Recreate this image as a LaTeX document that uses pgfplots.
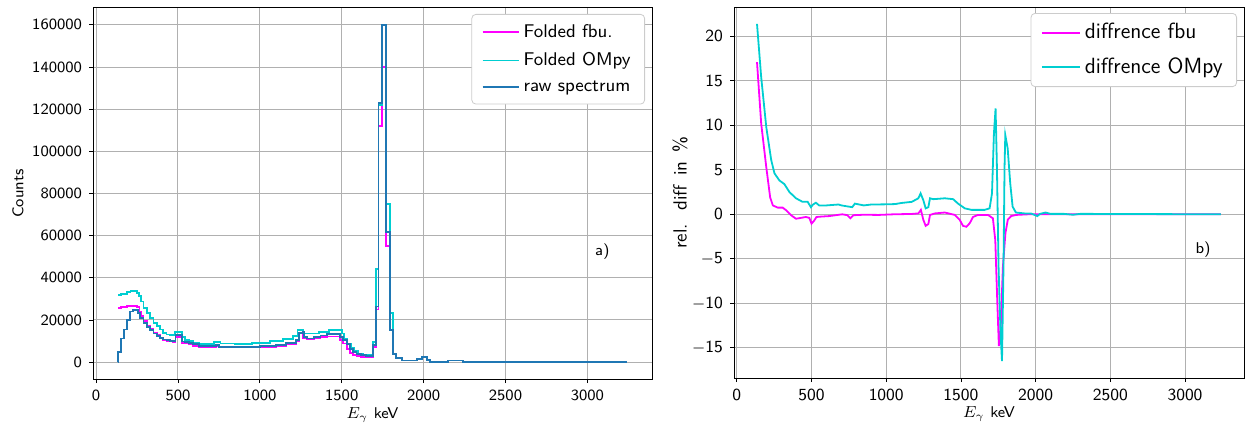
\documentclass[border=0pt]{standalone}
\usepackage{fontspec}
\usepackage{pgfplots}
\pgfplotsset{compat=1.18}
\definecolor{fbu}{HTML}{FF00FF}
\definecolor{omp}{HTML}{00CED1}
\definecolor{raw}{HTML}{1F77B4}
\definecolor{gridc}{HTML}{B0B0B0}
\begin{document}
\begin{tikzpicture}
\useasboundingbox (0,0) rectangle (623pt,215pt);
\pgfplotsset{
  every axis/.append style={
    scale only axis, grid=major, major grid style={gridc, line width=0.5pt},
    tick align=outside, major tick length=2pt, tick style={black, line width=0.4pt},
    axis line style={line width=0.5pt},
    xtick pos=bottom, ytick pos=left,
    tick label style={font=\fontsize{7.8}{9}\selectfont\sffamily},
    label style={font=\fontsize{7.8}{9}\selectfont\sffamily},
    xtick={0,500,1000,1500,2000,2500,3000},
    xticklabels={0,500,1000,1500,2000,2500,3000},
    xmin=-19, xmax=3395,
    scaled ticks=false,
    legend cell align=left,
    legend style={at={(1,1)}, anchor=north east, xshift=-3.5pt, yshift=-3pt,
      draw=gray!40, rounded corners=2pt, fill=white, row sep=2pt,
      inner xsep=5pt, inner ysep=3pt},
    xlabel style={at={(rel axis cs:0.5,0)}, anchor=center, yshift=-18pt},
  },
}
% ---------------- left panel ----------------
\begin{axis}[at={(46.5pt,25.5pt)}, anchor=south west, width=279.5pt, height=185.5pt,
  ymin=-8000, ymax=168000,
  ytick={0,20000,40000,60000,80000,100000,120000,140000,160000},
  yticklabels={0,20000,40000,60000,80000,100000,120000,140000,160000},
  xlabel={$E_\gamma$ keV}, ylabel={Counts},
  ylabel style={at={(rel axis cs:0,0.5)}, anchor=center, yshift=37.5pt},
  legend style={font=\fontsize{9.2}{11}\selectfont\sffamily},
  legend image code/.code={\draw[#1] (0pt,0pt) -- (18pt,0pt);},
]
\addlegendimage{fbu, line width=0.9pt}
\addlegendentry{Folded fbu.}
\addlegendimage{omp, line width=0.9pt}
\addlegendentry{Folded OMpy}
\addlegendimage{raw, line width=0.9pt}
\addlegendentry{raw spectrum}
\addplot[fbu, line width=0.9pt, const plot mark left, mark=none, forget plot] coordinates {
(136,25600)(150,26000)(190,26500)(210,26700)(250,26000)(265,24000)(275,22000)(290,19600)
(310,17200)(330,15600)(350,14000)(370,12800)(390,11600)(410,10600)(430,10200)(450,9800)
(470,9600)(485,12000)(525,9200)(545,9000)(565,8400)(590,7800)(630,7000)(730,7800)(750,6900)
(1000,7200)(1100,7800)(1160,8600)(1220,10000)(1240,13600)(1265,11600)(1290,10800)(1330,11200)
(1370,11800)(1410,12200)(1490,10400)(1510,8800)(1530,6400)(1550,4400)(1570,3300)(1590,2800)
(1620,2400)(1690,7000)(1708,25000)(1725,112000)(1745,140000)(1772,55000)(1793,15000)
(1813,4000)(1833,2000)(1870,800)(1960,1600)(1990,2400)(2020,1200)(2040,200)(2150,800)
(2240,50)(3240,50)};
\addplot[omp, line width=0.9pt, const plot mark left, mark=none, forget plot] coordinates {
(136,32000)(150,32500)(190,33100)(210,33600)(250,32800)(262,31200)(275,28800)(290,25600)
(310,23200)(330,20800)(350,18700)(370,17100)(390,15500)(410,13900)(430,13100)(450,12800)
(480,14400)(525,12000)(545,10400)(570,9900)(590,9100)(630,8500)(720,9600)(760,8800)(850,8500)
(950,9000)(1060,10000)(1140,11000)(1200,12500)(1230,15200)(1265,13600)(1360,14400)(1420,15200)
(1500,13600)(1515,11200)(1535,8800)(1555,6900)(1575,5300)(1600,4000)(1630,3200)(1690,9600)
(1708,44000)(1725,122000)(1745,160000)(1772,75200)(1793,23200)(1813,4000)(1833,2000)
(1870,800)(1960,1600)(1990,2400)(2020,1200)(2040,200)(2150,800)(2240,50)(3240,50)};
\addplot[raw, line width=0.9pt, const plot mark left, mark=none, forget plot] coordinates {
(136,0)(136.1,4800)(153,11200)(170,15500)(187,20000)(207,24000)(227,24800)(258,23200)
(270,20800)(290,18400)(310,16500)(330,15200)(350,13600)(370,12500)(390,11500)(410,10700)
(430,10400)(450,10100)(470,10000)(485,12800)(525,9800)(545,9600)(565,9000)(590,8500)
(630,7500)(730,8300)(750,7200)(1000,7600)(1100,8200)(1160,9000)(1220,10500)(1240,13900)
(1260,14400)(1270,12000)(1290,11200)(1330,11800)(1370,12600)(1410,13300)(1490,12000)
(1510,10400)(1530,8500)(1550,6400)(1570,4800)(1590,4000)(1620,3200)(1650,2900)(1690,8000)
(1708,26400)(1725,123000)(1745,160000)(1772,61600)(1793,15200)(1813,4000)(1833,2000)
(1870,800)(1960,1600)(1990,2400)(2020,1200)(2040,200)(2150,800)(2240,50)(3240,50)};
\node[font=\fontsize{7.8}{9}\selectfont\sffamily] at (axis cs:3092,52300) {a)};
\end{axis}
% ---------------- right panel ----------------
\begin{axis}[at={(367pt,26pt)}, anchor=south west, width=255pt, height=185.5pt,
  ymin=-18.4, ymax=23.3,
  ytick={-15,-10,-5,0,5,10,15,20},
  yticklabels={$-$15,$-$10,$-$5,0,5,10,15,20},
  tick label style={font=\fontsize{8.5}{10}\selectfont\sffamily},
  xlabel={$E_\gamma$ keV},
  ylabel={rel.\hspace{0.7em}diff\hspace{0.5em}in\hspace{0.5em}\%},
  ylabel style={at={(rel axis cs:0,0.5)}, anchor=center, yshift=27pt,
    font=\fontsize{9.5}{11}\selectfont\sffamily},
  legend style={font=\fontsize{11}{13}\selectfont\sffamily, row sep=4pt, inner ysep=3pt},
  legend image code/.code={\draw[#1] (0pt,0pt) -- (19pt,0pt);},
]
\addplot[fbu, line width=0.9pt, mark=none] coordinates {
(135,17.1)(163,10.2)(197,5.3)(223,1.9)(241,1.0)(274,0.75)(307,0.75)(330,0.45)(363,-0.1)
(396,-0.5)(430,-0.4)(462,-0.3)(485,-0.4)(500,-1.05)(518,-0.7)(533,-0.3)(570,-0.25)(618,-0.2)
(706,0)(740,-0.1)(760,-0.45)(780,-0.1)(850,-0.05)(950,-0.07)(1050,0)(1171,0.04)(1215,0.1)
(1232,0.5)(1248,-0.6)(1264,-1.3)(1282,-1.1)(1293,-0.07)(1326,0.1)(1392,0.2)(1459,-0.07)
(1492,-0.63)(1514,-1.3)(1537,-1.4)(1559,-1.0)(1581,-0.3)(1614,-0.07)(1681,-0.07)(1714,-0.45)
(1730,-2.9)(1743,-9.6)(1754,-14.8)(1765,-13.3)(1781,-5.9)(1798,-2.1)(1814,-0.6)(1836,-0.2)
(1869,-0.07)(1950,0)(2050,0.02)(2200,0)(3240,0)};
\addlegendentry{diffrence fbu}
\addplot[omp, line width=0.9pt, mark=none] coordinates {
(135,21.4)(163,15.4)(197,9.8)(230,6.1)(252,4.6)(285,3.8)(318,3.4)(352,2.5)(396,1.8)(440,1.4)
(474,1.4)(496,0.8)(510,1.1)(529,1.3)(551,1.0)(600,1.0)(680,1.1)(700,1.0)(772,0.8)(790,1.2)
(850,1.0)(900,1.1)(994,1.12)(1060,1.15)(1100,1.27)(1171,1.4)(1215,1.8)(1230,2.35)(1248,1.6)
(1264,0.67)(1282,0.8)(1293,1.8)(1315,1.7)(1392,1.8)(1448,1.7)(1481,1.2)(1526,0.67)(1570,0.5)
(1659,0.5)(1692,0.67)(1708,2.35)(1721,9.1)(1732,11.9)(1741,5.3)(1752,-5.9)(1765,-13.3)
(1775,-16.5)(1785,-5.9)(1792,5.3)(1797,8.9)(1813,7.4)(1830,3.5)(1846,0.86)(1868,0.2)(1925,0.1)
(1969,0.1)(2011,-0.2)(2030,0.05)(2066,0.2)(2100,0.05)(2190,0.05)(2250,-0.05)(2300,0.05)(3240,0)};
\addlegendentry{diffrence OMpy}
\node[font=\fontsize{7.8}{9}\selectfont\sffamily] at (axis cs:3121,-4) {b)};
\end{axis}
\end{tikzpicture}
\end{document}
